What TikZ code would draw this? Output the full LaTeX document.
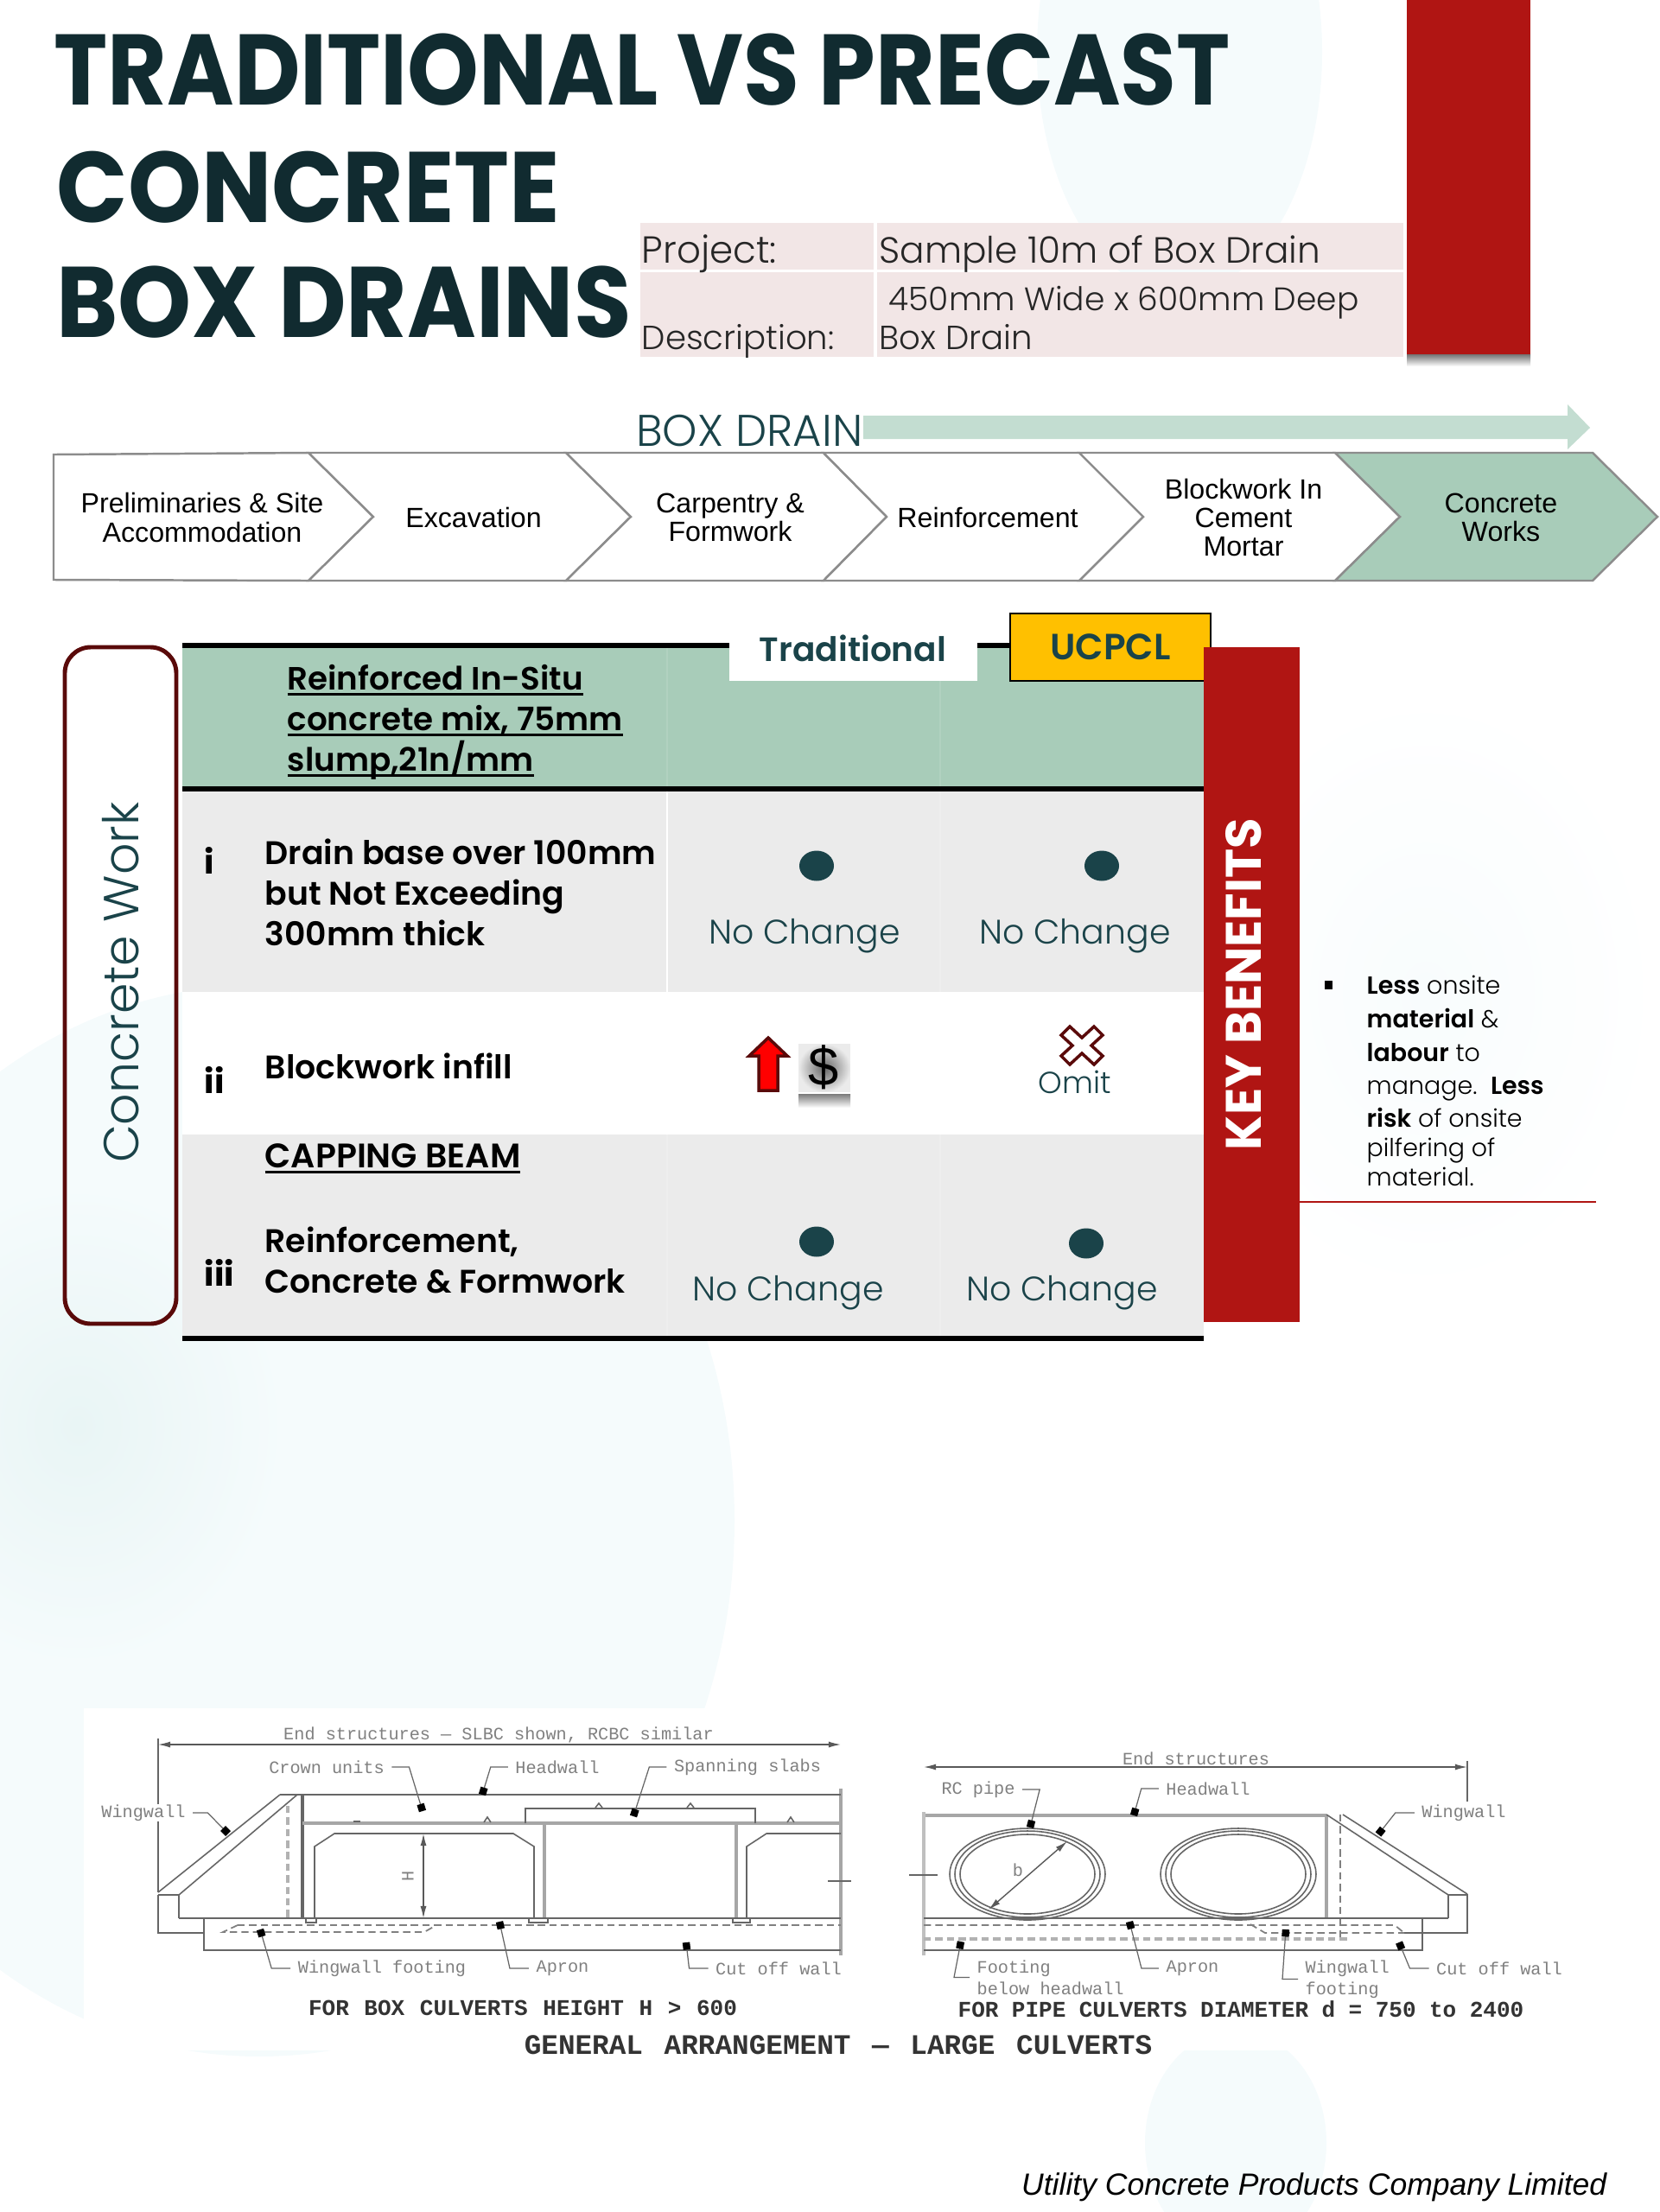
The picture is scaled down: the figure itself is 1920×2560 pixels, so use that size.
\documentclass[tikz,border=0pt]{standalone}
\usepackage{fontspec}
\setmainfont{Poppins}
\newfontfamily\lightfont{Poppins Light}
\newfontfamily\semifont{Poppins SemiBold}
\newfontfamily\titlefont[FakeStretch=0.907]{Poppins Bold}
\newfontfamily\titlewide[FakeStretch=0.932]{Poppins Bold}
\newfontfamily\armfont{Liberation Sans}
\newfontfamily\cadfont{Liberation Mono}
\usetikzlibrary{positioning,arrows.meta}

\newcommand{\ulbar}[1]{\setbox0=\hbox{#1}\rlap{\rule[-1.9pt]{\wd0}{0.9pt}}\box0}

\definecolor{titledark}{HTML}{112B30}
\definecolor{tealink}{HTML}{1A4349}
\definecolor{sagegreen}{HTML}{A8CCB9}
\definecolor{palearrow}{HTML}{C3DDD1}
\definecolor{barred}{HTML}{B01513}
\definecolor{darkmaroon}{HTML}{5A0A0A}
\definecolor{rowgray}{HTML}{EBEBEB}
\definecolor{pinkfill}{HTML}{F2E6E6}
\definecolor{ucgold}{HTML}{FFC000}
\definecolor{paleblob}{HTML}{F5FBFC}
\definecolor{deepblob}{HTML}{E9F5F5}
\definecolor{cadgray}{HTML}{808080}

\tikzset{
  titletext/.style={anchor=base west, inner sep=0pt, text=titledark, font=\titlefont\fontsize{33}{33}\selectfont},
  headtext/.style={anchor=base west, inner sep=0pt, text=black!85, font=\lightfont\fontsize{11}{13}\selectfont},
  chevron/.style={draw=black!45, line width=0.7pt, fill=white},
  chevtext/.style={align=center, inner sep=0pt, font=\armfont\fontsize{9.15}{9.4}\selectfont},
  rowtext/.style={anchor=west, align=left, inner sep=0pt, font=\semifont\fontsize{10.75}{13.3}\selectfont},
  ulinetext/.style={anchor=base west, inner sep=0pt, font=\semifont\fontsize{10.6}{13.3}\selectfont},
  rownum/.style={anchor=base west, inner sep=0pt, font=\bfseries\fontsize{11}{13}\selectfont},
  nochange/.style={anchor=base, inner sep=0pt, text=tealink, font=\lightfont\fontsize{11.2}{13}\selectfont},
  blackrule/.style={line width=1.7pt, black},
  bullettext/.style={anchor=base west, inner sep=0pt, font=\lightfont\fontsize{8.1}{10}\selectfont},
  dotmark/.style={fill=tealink},
  faintsep/.style={line width=0.3pt},
  cadline/.style={draw=black!60, line width=0.45pt},
  cadpale/.style={draw=black!35, line width=0.9pt},
  caddash/.style={draw=black!50, line width=0.5pt, dash pattern=on 2.4pt off 1.4pt},
  dimline/.style={draw=black!65, line width=0.4pt, {Latex[length=4pt,width=2pt]}-{Latex[length=4pt,width=2pt]}},
  leader/.style={draw=black!60, line width=0.35pt, -{Square[length=2.4pt,width=2.4pt,black]}},
  cadtext/.style={inner sep=0pt, text=cadgray, font=\cadfont\fontsize{5.75}{7}\selectfont},
  cadtitle/.style={inner sep=0pt, text=black!80, font=\cadfont\bfseries\fontsize{7.4}{8}\selectfont},
}

\begin{document}
\begin{tikzpicture}[x=0.01cm,y=-0.01cm]
\useasboundingbox (0,0) rectangle (1920,2560);

\def\cola{772}
\def\colb{1088}
\def\tabl{211}
\def\tabr{1393}
\def\textx{306}

\fill[paleblob] (1365,60) ellipse (165 and 280);
\fill[paleblob] (300,1760) ellipse (550 and 620);
\shade[inner color=deepblob, outer color=paleblob] (90,1650) ellipse (240 and 280);
\shade[inner color=paleblob!70, outer color=white] (1650,1150) ellipse (270 and 350);
\fill[paleblob] (1430,2480) ellipse (105 and 130);
\fill[white] (97,1977) rectangle (1860,2373);

% heading
\node(title1) [titletext] at (62,121) {TRADITIONAL VS PRECAST};
\node(title2) [titletext, font=\titlewide\fontsize{33}{33}\selectfont] at (65,257) {CONCRETE};
\node(title3) [titletext, font=\titlewide\fontsize{33}{33}\selectfont] at (65,390) {BOX DRAINS};

\shade[top color=black!55, bottom color=white] (1628,410) rectangle (1771,424);
\fill[barred] (1628,0) rectangle (1771,410);

\fill[pinkfill] (741,258) rectangle (1011,312);
\fill[pinkfill] (1015,258) rectangle (1624,312);
\fill[pinkfill] (741,315) rectangle (1011,413);
\fill[pinkfill] (1015,315) rectangle (1624,413);
\node(project) [headtext, font=\lightfont\fontsize{12.4}{13}\selectfont] at (742,304) {Project:};
\node(sample) [headtext, font=\lightfont\fontsize{12}{13}\selectfont] at (1017,304) {Sample 10m of Box Drain};
\node(size) [headtext, font=\lightfont\fontsize{10.7}{13}\selectfont] at (1028,359) {450mm Wide x 600mm Deep};
\node(descr) [headtext] at (742,404) {Description:};
\node(drain) [headtext] at (1017,404) {Box Drain};

% process strip
\fill[palearrow] (999,481) -- (1814,481) -- (1814,468) -- (1840,495) -- (1814,520) -- (1814,508) -- (999,508) -- cycle;
\node(boxdrain) [anchor=base east, inner sep=0pt, text=tealink, font=\lightfont\fontsize{14.6}{16}\selectfont] at (999,516) {BOX DRAIN};

\draw[chevron] (62,526) -- (357,524) -- (432,598) -- (357,672) -- (62,671) -- cycle;
\draw[chevron] (357,524) -- (655,524) -- (730,598) -- (655,672) -- (357,672) -- (432,598) -- cycle;
\draw[chevron] (655,524) -- (953,524) -- (1026,598) -- (953,672) -- (655,672) -- (730,598) -- cycle;
\draw[chevron] (953,524) -- (1249,524) -- (1323,598) -- (1249,672) -- (953,672) -- (1026,598) -- cycle;
\draw[chevron] (1249,524) -- (1545,524) -- (1620,598) -- (1545,672) -- (1249,672) -- (1323,598) -- cycle;
\draw[chevron, fill=sagegreen] (1545,524) -- (1843,524) -- (1918,598) -- (1843,672) -- (1545,672) -- (1620,598) -- cycle;

\node(prelim) [chevtext] at (234,599) {Preliminaries \& Site\\Accommodation};
\node(excav) [chevtext] at (548,599) {Excavation};
\node(carp) [chevtext] at (845,599) {Carpentry \&\\Formwork};
\node(reinf) [chevtext] at (1143,599) {Reinforcement};
\node(block) [chevtext] at (1439,599) {Blockwork In\\Cement\\Mortar};
\node(conc) [chevtext] at (1737,599) {Concrete\\Works};

% table
\draw[darkmaroon, line width=1.4pt, rounded corners=0.3cm] (75,749) rectangle (204,1532);
\node(work) [rotate=90, inner sep=0pt, text=tealink, font=\lightfont\fontsize{16.2}{18}\selectfont] at (140,1137) {Concrete Work};

\fill[sagegreen] (\tabl,750) rectangle (\tabr,912);
\fill[rowgray] (\tabl,916) rectangle (\tabr,1148);
\fill[white] (\tabl,1148) rectangle (\tabr,1313);
\fill[rowgray] (\tabl,1313) rectangle (\tabr,1546);
\draw[white, line width=0.8pt] (\cola,916) -- (\cola,1148);
\draw[faintsep, sagegreen!90!white] (\cola,750) -- (\cola,912);
\draw[faintsep, sagegreen!90!white] (\colb,750) -- (\colb,912);
\draw[faintsep, rowgray!85!white] (\colb,916) -- (\colb,1148);
\draw[faintsep, rowgray!85!white] (\cola,1313) -- (\cola,1546);
\draw[faintsep, rowgray!85!white] (\colb,1313) -- (\colb,1546);

\draw[blackrule] (\tabl,747) -- (\tabr,747);
\draw[blackrule] (\tabl,913) -- (\tabr,913);
\draw[blackrule] (\tabl,1549) -- (\tabr,1549);

\fill[white] (844,740) rectangle (1131,788);
\node(trad) [anchor=base, inner sep=0pt, text=tealink, font=\semifont\fontsize{11.1}{14}\selectfont] at (987,765) {Traditional};
\node(ucpcl) [draw=black, line width=0.8pt, fill=ucgold, minimum width=2.32cm, minimum height=0.78cm, inner sep=0pt, text=tealink, font=\semifont\fontsize{12}{14}\selectfont] at (1285,749) {UCPCL};

\fill[barred] (1393,749) rectangle (1504,1530);
\node(benefits) [rotate=90, inner sep=0pt, text=white, font=\bfseries\fontsize{16.4}{19}\selectfont] at (1439,1139) {KEY BENEFITS};
\draw[barred, line width=0.7pt] (1504,1391) -- (1847,1391);

\node(insitua) [ulinetext] at (332,798) {\ulbar{Reinforced In-Situ}};
\node(insitub) [ulinetext] at (332,845) {\ulbar{concrete mix, 75mm}};
\node(insituc) [ulinetext] at (332,892) {\ulbar{slump,21n/mm}};
\node(rowi) [rownum] at (236,1011) {i};
\node(base) [rowtext] at (\textx,1033) {Drain base over 100mm\\but Not Exceeding\\300mm thick};
\node(rowii) [rownum] at (236,1265) {ii};
\node(infill) [rowtext] at (\textx,1234) {Blockwork infill};
\node(cap) [ulinetext, font=\semifont\fontsize{11.2}{13.3}\selectfont] at (\textx,1351) {\ulbar{CAPPING BEAM}};
\node(rowiii) [rownum] at (236,1488) {iii};
\node(formwork) [rowtext] at (\textx,1458) {Reinforcement,\\Concrete \& Formwork};

\fill[dotmark] (945,1002) ellipse (20 and 17.5);
\fill[dotmark] (1275,1002) ellipse (20 and 17.5);
\fill[dotmark] (945,1437) ellipse (20 and 17.5);
\fill[dotmark] (1257,1439) ellipse (20 and 17.5);
\node(ncia) [nochange] at (931,1092) {No Change};
\node(ncib) [nochange] at (1244,1092) {No Change};
\node(nciiia) [nochange] at (912,1505) {No Change};
\node(nciiib) [nochange] at (1229,1505) {No Change};

\filldraw[fill=red, draw=darkmaroon, line width=1pt, line join=miter] (889,1201) -- (911,1222) -- (900,1222) -- (900,1262) -- (878,1262) -- (878,1222) -- (867,1222) -- cycle;
\shade[top color=black!55, bottom color=white] (924,1265) rectangle (984,1282);
\shade[inner color=black!60, outer color=black!8] (924,1208) rectangle (984,1264);
\draw[white, line width=0.7pt] (923,1208) -- (923,1265) -- (985,1265) -- (985,1208);
\node(dollar) [inner sep=0pt, font=\armfont\fontsize{18}{18}\selectfont] at (953,1235) {\$};

\filldraw[fill=white, draw=darkmaroon, line width=1pt] (1252,1201) -- (1266,1188) -- (1276,1198) -- (1263,1210) -- (1276,1222) -- (1266,1232) -- (1252,1219) -- (1238,1232) -- (1228,1222) -- (1241,1210) -- (1228,1198) -- (1238,1188) -- cycle;
\node(omit) [nochange, font=\lightfont\fontsize{10}{12}\selectfont] at (1244,1265) {Omit};

\fill[black] (1533,1135) rectangle (1542,1145);
\node(bena) [bullettext] at (1581,1150) {\textbf{Less} onsite};
\node(benb) [bullettext] at (1581,1189) {\textbf{material} \&};
\node(benc) [bullettext] at (1581,1228) {\textbf{labour} to};
\node(bend) [bullettext] at (1581,1266) {manage.\ \ \textbf{Less}};
\node(bene) [bullettext] at (1581,1304) {\textbf{risk} of onsite};
\node(benf) [bullettext] at (1581,1338) {pilfering of};
\node(beng) [bullettext] at (1581,1372) {material.};

% box culverts
\coordinate(lend) at (183,2019);
\coordinate(rend) at (973,2019);
\draw[dimline] (lend) -- (rend);
\draw[cadline] (183,2012) -- (183,2088);
\draw[cadline] (183,2108) -- (183,2190);
\draw[cadpale] (973,2070) -- (973,2263);
\draw[cadline, line width=0.6pt] (324,2077) -- (973,2077);
\draw[cadline] (183,2190) -- (324,2077);
\draw[cadline] (207,2193) -- (344,2077);
\draw[cadline] (183,2193) -- (207,2193) -- (207,2220);
\draw[cadline, line width=0.9pt] (350,2077) -- (350,2220);
\draw[caddash, draw=black!30, line width=0.9pt] (333,2090) -- (333,2220);
\draw[cadpale] (350,2110) -- (973,2110);
\draw[cadline] (608,2110) -- (608,2093) -- (874,2093) -- (874,2110);
\draw[cadpale] (630,2110) -- (630,2220);
\draw[cadpale] (852,2110) -- (852,2220);
\draw[cadline] (364,2220) -- (364,2137) -- (387,2122) -- (594,2122) -- (618,2137) -- (618,2220);
\draw[cadline] (864,2220) -- (864,2137) -- (887,2122) -- (973,2122);
\draw[cadline] (207,2220) -- (973,2220);
\draw[caddash] (275,2228) -- (973,2228);
\draw[caddash] (275,2228) -- (258,2236) -- (491,2236) -- (505,2228);
\draw[cadline] (183,2193) -- (183,2237) -- (236,2237);
\draw[cadline] (236,2220) -- (236,2257) -- (973,2257);
\draw[cadline] (409,2108) -- (417,2108);
\draw[cadline] (560,2109) -- (564,2103) -- (568,2109);
\draw[cadline] (689,2092) -- (693,2087) -- (697,2092);
\draw[cadline] (795,2092) -- (799,2087) -- (803,2092);
\draw[cadline] (911,2109) -- (915,2103) -- (919,2109);
\draw[cadline] (354,2220) rectangle (366,2225);
\draw[cadline] (612,2220) rectangle (634,2225);
\draw[cadline] (848,2220) rectangle (868,2225);
\coordinate(htop) at (490,2122);
\coordinate(hbot) at (490,2220);
\draw[dimline] (htop) -- (hbot);
\node(hlab) [cadtext, rotate=90] at (472,2171) {H};
\draw[cadline] (958,2177) -- (985,2177);

\node(endbox) [cadtext] at (577,2008) {End structures \textemdash\ SLBC shown, RCBC similar};
\node(crown) [cadtext] at (378,2045) {Crown units};
\node(headl) [cadtext] at (645,2045) {Headwall};
\node(span) [cadtext] at (865,2045) {Spanning slabs};
\node(wingl) [cadtext] at (166,2098) {Wingwall};
\node(footl) [cadtext] at (442,2278) {Wingwall footing};
\node(apronl) [cadtext] at (651,2278) {Apron};
\node(cutl) [cadtext] at (901,2278) {Cut off wall};

\coordinate(crownpt) at (489,2096);
\coordinate(headpt) at (558,2077);
\coordinate(spanpt) at (733,2102);
\coordinate(wingpt) at (264,2122);
\coordinate(footpt) at (301,2233);
\coordinate(apronpt) at (578,2224);
\coordinate(cutpt) at (794,2248);
\draw[leader] (crown.east) ++(8,0) -- ++(20,0) -- (crownpt);
\draw[leader] (headl.west) ++(-8,0) -- ++(-20,0) -- (headpt);
\draw[leader] (span.west) ++(-8,0) -- ++(-20,0) -- (spanpt);
\draw[leader] (wingl.east) ++(8,0) -- ++(17,0) -- (wingpt);
\draw[leader] (footl.west) ++(-8,0) -- ++(-22,0) -- (footpt);
\draw[leader] (apronl.west) ++(-8,0) -- ++(-22,0) -- (apronpt);
\draw[leader] (cutl.west) ++(-8,0) -- ++(-22,0) -- (cutpt);

\node(boxtitle) [cadtitle] at (605,2324) {\spaceskip=5pt FOR BOX CULVERTS HEIGHT H > 600};

% pipe culverts
\coordinate(lpipe) at (1069,2045);
\coordinate(rpipe) at (1698,2045);
\draw[dimline] (lpipe) -- (rpipe);
\draw[cadline] (1698,2038) -- (1698,2085);
\draw[cadpale] (1069,2101) -- (1535,2101);
\draw[cadpale, draw=black!25] (1069,2097) -- (1069,2263);
\draw[cadline] (1189,2169) ellipse (90 and 53);
\draw[cadline] (1189,2169) ellipse (84 and 50);
\draw[cadline] (1189,2169) ellipse (78 and 46);
\draw[cadline] (1433,2169) ellipse (90 and 53);
\draw[cadline] (1433,2169) ellipse (84 and 50);
\draw[cadline] (1433,2169) ellipse (78 and 46);
\coordinate(dlow) at (1144,2210);
\coordinate(dhigh) at (1235,2131);
\draw[dimline] (dlow) -- (dhigh);
\node(dlab) [cadtext] at (1178,2164) {b};
\draw[cadpale] (1535,2101) -- (1535,2220);
\draw[caddash] (1551,2100) -- (1551,2243);
\draw[cadline] (1554,2100) -- (1698,2192);
\draw[cadline] (1535,2100) -- (1676,2193);
\draw[cadline] (1676,2220) -- (1676,2193) -- (1698,2193) -- (1698,2237) -- (1625,2237);
\draw[cadline] (1069,2220) -- (1676,2220);
\draw[caddash] (1069,2228) -- (1614,2228) -- (1625,2237);
\draw[caddash, draw=black!30, line width=0.9pt] (1069,2244) -- (1560,2244);
\draw[caddash] (1447,2227) -- (1464,2237) -- (1625,2237);
\draw[cadline] (1069,2257) -- (1646,2257) -- (1646,2220);
\draw[cadline] (1052,2170) -- (1085,2170);

\node(endpipe) [cadtext] at (1384,2035) {End structures};
\node(rcpipe) [cadtext] at (1132,2071) {RC pipe};
\node(headr) [cadtext] at (1398,2070) {Headwall};
\node(wingr) [cadtext] at (1694,2098) {Wingwall};
\node(footr) [cadtext, anchor=north west, align=left] at (1130,2268) {Footing\\below headwall};
\node(apronr) [cadtext] at (1380,2278) {Apron};
\node(wfootr) [cadtext, anchor=north west, align=left] at (1510,2268) {Wingwall\\footing};
\node(cutr) [cadtext] at (1735,2278) {Cut off wall};

\coordinate(rcpt) at (1192,2115);
\coordinate(headrpt) at (1312,2101);
\coordinate(wingrpt) at (1595,2123);
\coordinate(footrpt) at (1112,2247);
\coordinate(apronrpt) at (1307,2224);
\coordinate(wfootpt) at (1488,2233);
\coordinate(cutrpt) at (1619,2248);
\draw[leader] (rcpipe.east) ++(8,0) -- ++(20,0) -- (rcpt);
\draw[leader] (headr.west) ++(-8,0) -- ++(-20,0) -- (headrpt);
\draw[leader] (wingr.west) ++(-8,0) -- ++(-22,0) -- (wingrpt);
\draw[leader] (footr.west) ++(-8,0) -- ++(-18,0) -- (footrpt);
\draw[leader] (apronr.west) ++(-8,0) -- ++(-20,0) -- (apronrpt);
\draw[leader] (wfootr.west) ++(-8,0) -- ++(-18,0) -- (wfootpt);
\draw[leader] (cutr.west) ++(-8,0) -- ++(-22,0) -- (cutrpt);

\node(pipetitle) [cadtitle] at (1436,2325) {\spaceskip=4.4pt FOR PIPE CULVERTS DIAMETER d = 750 to 2400};
\node(general) [cadtitle, font=\cadfont\bfseries\fontsize{9.3}{11}\selectfont] at (970,2367) {\spaceskip=7pt GENERAL ARRANGEMENT \textemdash\ LARGE CULVERTS};

\node(company) [anchor=base east, inner sep=0pt, font=\armfont\itshape\fontsize{10.1}{12}\selectfont] at (1860,2540) {Utility Concrete Products Company Limited};
\end{tikzpicture}
\end{document}
